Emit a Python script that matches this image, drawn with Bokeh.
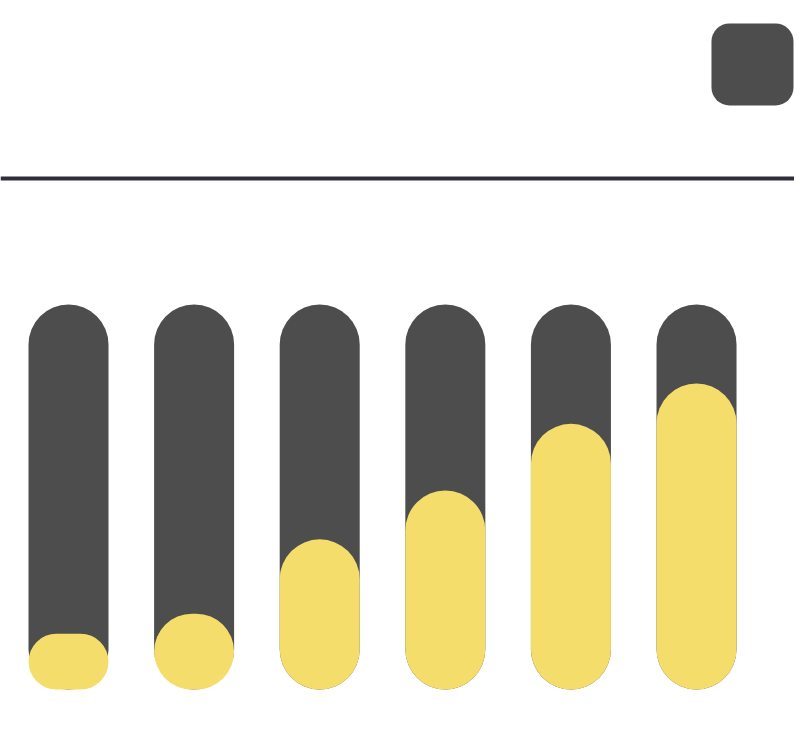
from bokeh.embed import file_html
from bokeh.resources import INLINE
from bokeh.models import ColumnDataSource, Range1d, Span
from bokeh.plotting import figure

# values (percent of each track that is filled)
slots = [0, 1, 2, 3, 4, 5]
track = [100, 100, 100, 100, 100, 100]
filled = [14.5, 19.7, 39.0, 51.7, 69.0, 79.5]

DARK = "#4d4d4d"
YELLOW = "#f4dd6a"
RULE = "#2f2f3a"

src = ColumnDataSource(dict(x=slots, track=track, filled=filled))

p = figure(width=794, height=736, output_backend="svg", toolbar_location=None,
           x_range=Range1d(-0.5414, 5.780), y_range=Range1d(-12.2, 178.96),
           min_border=0, background_fill_color="white", border_fill_color="white")
p.axis.visible = False
p.grid.visible = False
p.outline_line_color = None

# grey tracks, then the yellow fill on top
p.vbar(x="x", bottom=0, top="track", width=0.637, source=src,
       fill_color=DARK, line_color=None, border_radius=40)
p.vbar(x="x", bottom=0, top="filled", width=0.637, source=src,
       fill_color=YELLOW, line_color=None, border_radius=40)

# header: rounded button and rule
p.quad(left=[5.119], right=[5.772], top=[173.0], bottom=[151.7],
       fill_color=DARK, line_color=None, border_radius=18)
p.add_layout(Span(location=132.7, dimension="width", line_color=RULE, line_width=4))

open("out.html", "w").write(file_html(p, INLINE))
